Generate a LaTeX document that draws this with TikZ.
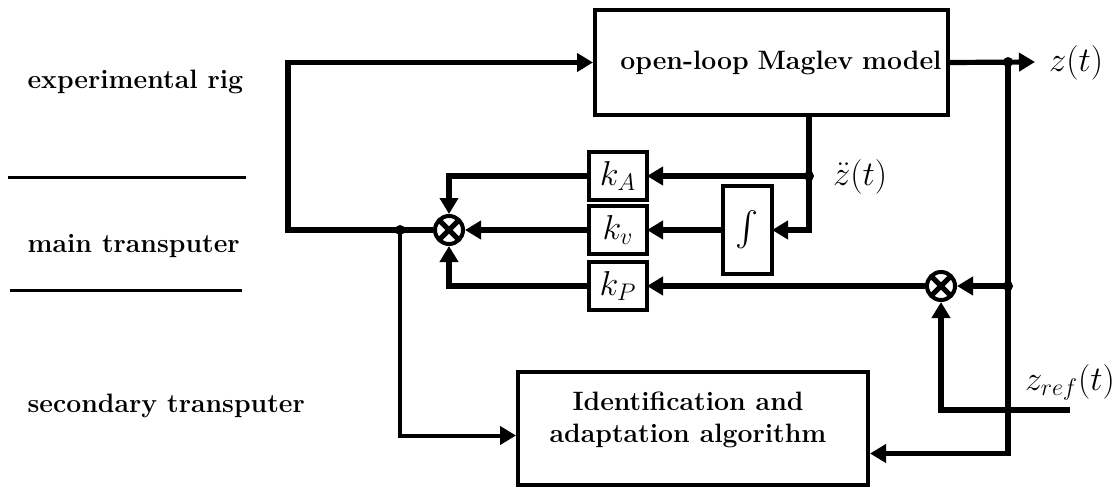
\documentclass[tikz,border=0pt]{standalone}
\usepackage{exscale}
\usetikzlibrary{arrows.meta,positioning,calc}

\begin{document}
\begin{tikzpicture}[->, >={Triangle[length=8pt,width=9pt]}, x=0.5pt, y=-0.5pt, line width=2.6pt, node distance=3pt]
\tikzstyle{block}=[draw, rectangle, line width=2pt, inner sep=0pt, font=\fontsize{13.3}{16}\selectfont\bfseries]
\tikzstyle{gain}=[draw, rectangle, line width=2pt, minimum width=29pt, minimum height=24pt, inner sep=0pt, outer sep=0pt, font=\fontsize{17}{20}\selectfont]
\tikzstyle{sum}=[draw, circle, line width=2pt, minimum size=14pt, inner sep=0pt, path picture={\draw[-, line width=2.6pt] (path picture bounding box.north west) -- (path picture bounding box.south east) (path picture bounding box.north east) -- (path picture bounding box.south west);}]
\tikzstyle{tag}=[font=\fontsize{13.3}{16}\selectfont\bfseries, anchor=base west, inner sep=0pt]
\tikzstyle{sig}=[font=\fontsize{17}{20}\selectfont, inner sep=0pt]
\useasboundingbox (0,0) rectangle (1117,487);

% layers
\node[tag] (rig)    at (25,88)  {experimental rig};
\node[tag] (main)   at (25,252) {main transputer};
\node[tag] (second) at (25,412) {secondary transputer};
\draw[-, line width=1.5pt] (8,177) -- (246,177);
\draw[-, line width=1.5pt] (10,290) -- (242,290);

% blocks
\node[block, minimum width=176.5pt, minimum height=52.5pt, text width=170pt, align=right, inner xsep=3pt] (maglev) at (771.5,62.5) {open-loop Maglev model};
\node[block, minimum width=175pt, minimum height=56.5pt] (idbox) at (693,428.5) {};
\node[font=\fontsize{13.3}{16}\selectfont\bfseries, align=center] (idtext) at (688,420) {Identification and\\adaptation algorithm};
\node[gain] (kA) at (618,176) {$k_A$};
\node[gain] (kv) [below=of kA] {$k_v$};
\node[gain] (kP) [below=4pt of kv] {$k_P$};
\node[draw, line width=1.6pt, minimum width=24.5pt, minimum height=44pt, inner sep=0pt, outer sep=0pt, font=\fontsize{16}{20}\selectfont] (integ) at (747.5,230) {$\int$};
\node[sum] (sum1) at (449,230) {};
\node[sum] (sum2) at (941,286) {};

% signals
\coordinate (fbcorner) at (288,230);
\coordinate (split1) at (400,230);
\coordinate (zout) at (1035,62);
\coordinate (tap1) at (1008,62);
\coordinate (tap2) at (1008,286);
\coordinate (zref) at (1070,410);
\coordinate (zdd) at (809,176);
\node[sig] (zlab)    at (1076,63)  {$z(t)$};
\node[sig] (zddlab)  at (860,177)  {$\ddot z(t)$};
\node[sig] (zreflab) at (1070,382) {$z_{ref}(t)$};

\draw (sum1.west) -- (fbcorner) |- (maglev.west);
\draw[line width=2pt] (split1) |- ([yshift=-3.5pt]idbox.west);
\draw (maglev.east) -- (zout);
\draw (tap1) |- ([yshift=-12.5pt]idbox.east);
\draw (tap2) -- (sum2.east);
\draw (zref) -| (sum2.south);
\draw (sum2.west) -- (kP.east);
\draw (kP.west) -| (sum1.south);
\draw (zdd |- maglev.south) |- (integ.east);
\draw (zdd) -- (kA.east);
\draw (integ.west) -- (kv.east);
\draw (kv.west) -- (sum1.east);
\draw (kA.west) -| (sum1.north);

% junctions
\fill[-] (split1) circle (2.5pt);
\fill[-] (zdd) circle (2.5pt);
\fill[-] (tap1) circle (2.5pt);
\fill[-] (tap2) circle (2.5pt);
\end{tikzpicture}
\end{document}
